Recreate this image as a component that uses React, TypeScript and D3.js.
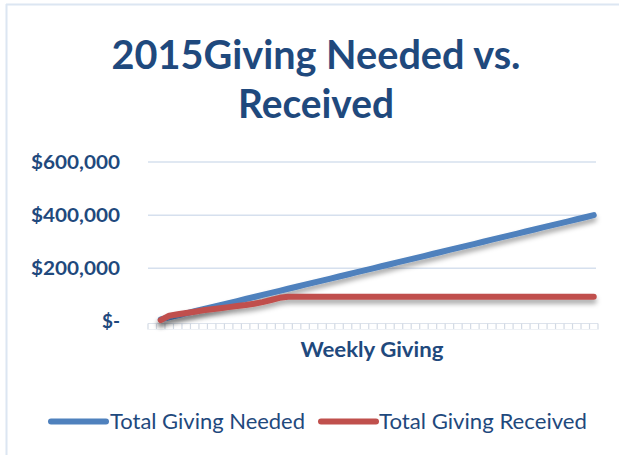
import React from "react";
import * as d3 from "d3";

const weeks: number[] = d3.range(0, 53);

const totalNeeded: (number | null)[] = [
  null,
  7692, 15385, 23077, 30769, 38462, 46154, 53846, 61538, 69231, 76923,
  84615, 92308, 100000, 107692, 115385, 123077, 130769, 138462, 146154, 153846,
  161538, 169231, 176923, 184615, 192308, 200000, 207692, 215385, 223077, 230769,
  238462, 246154, 253846, 261538, 269231, 276923, 284615, 292308, 300000, 307692,
  315385, 323077, 330769, 338462, 346154, 353846, 361538, 369231, 376923, 384615,
  392308, 400000,
];

const totalReceived: (number | null)[] = [
  null,
  5000, 22000, 27000, 32000, 37000, 42000, 46000, 50000, 54000, 58000,
  62000, 67000, 73000, 81000, 89000, 93000, 93000, 93000, 93000, 93000,
  93000, 93000, 93000, 93000, 93000, 93000, 93000, 93000, 93000, 93000,
  93000, 93000, 93000, 93000, 93000, 93000, 93000, 93000, 93000, 93000,
  93000, 93000, 93000, 93000, 93000, 93000, 93000, 93000, 93000, 93000,
  93000, 93000,
];

const yTicks: number[] = [0, 200000, 400000, 600000];
const yTickLabels: string[] = ["$-", "$200,000", "$400,000", "$600,000"];
const yLabelWidths: number[] = [18, 89, 89, 89];

const seriesNames: string[] = ["Total Giving Needed", "Total Giving Received"];
const seriesColors: string[] = ["#4F81BD", "#C0504D"];

const titleLines: string[] = ["2015Giving Needed vs.", "Received"];
const xAxisTitle = "Weekly Giving";

const FONT = "Lato, 'Open Sans', sans-serif";
const TEXT = "#1F497D";

export default function App() {
  const W = 619;
  const H = 455;
  const left = 148;
  const right = 598;
  const top = 162;
  const bottom = 321.5;

  const x = d3
    .scaleBand<number>()
    .domain(weeks)
    .range([left, right])
    .paddingInner(0)
    .paddingOuter(0);
  const y = d3.scaleLinear().domain([0, 600000]).range([bottom, top]);

  const cx = (w: number) => (x(w) as number) + x.bandwidth() / 2;

  const line = d3
    .line<[number, number | null]>()
    .defined((d) => d[1] !== null)
    .x((d) => cx(d[0]))
    .y((d) => y(d[1] as number));

  const series = [totalNeeded, totalReceived];

  const tickXs = weeks.map((w) => x(w) as number).concat([right]);

  return (
    <svg
      width={W}
      height={H}
      style={{ position: "absolute", left: 0, top: 0, background: "#fff" }}
    >
      <defs>
        <filter id="shadow" x="-10%" y="-30%" width="120%" height="200%">
          <feDropShadow dx="0" dy="4" stdDeviation="2.5" floodColor="#000" floodOpacity="0.35" />
        </filter>
      </defs>
      <rect x={0} y={0} width={W} height={H} fill="#fff" />
      <line x1={6.5} y1={4} x2={6.5} y2={H} stroke="#DCE6F2" strokeWidth={2} />
      <line x1={6} y1={4.5} x2={W} y2={4.5} stroke="#DCE6F2" strokeWidth={2} />

      {/* Title */}
      <text
        x={316}
        y={69}
        textAnchor="middle"
        fontFamily={FONT}
        fontWeight="bold"
        fontSize={40}
        fill={TEXT}
        textLength={409}
        lengthAdjust="spacingAndGlyphs"
      >
        {titleLines[0]}
      </text>
      <text
        x={316}
        y={118}
        textAnchor="middle"
        fontFamily={FONT}
        fontWeight="bold"
        fontSize={40}
        fill={TEXT}
        textLength={156}
        lengthAdjust="spacingAndGlyphs"
      >
        {titleLines[1]}
      </text>

      {/* Gridlines */}
      {yTicks.filter((t) => t > 0).map((t) => (
        <line
          key={t}
          x1={left}
          x2={right - 2}
          y1={y(t)}
          y2={y(t)}
          stroke="#D6E0EE"
          strokeWidth={1.5}
        />
      ))}

      {/* Y labels */}
      {yTicks.map((t, i) => (
        <text
          key={t}
          x={120}
          y={y(t)}
          dy="0.35em"
          textAnchor="end"
          fontFamily={FONT}
          fontWeight="bold"
          fontSize={19}
          fill={TEXT}
          textLength={yLabelWidths[i]}
          lengthAdjust="spacingAndGlyphs"
        >
          {yTickLabels[i]}
        </text>
      ))}

      {/* X axis */}
      <line x1={left} x2={right} y1={bottom + 2} y2={bottom + 2} stroke="#DDE3EC" strokeWidth={1} />
      {tickXs.map((tx, i) => (
        <line
          key={i}
          x1={tx}
          x2={tx}
          y1={bottom + 2}
          y2={bottom + 8}
          stroke="#D3DAE4"
          strokeWidth={1.2}
        />
      ))}
      <line x1={left} x2={right} y1={bottom + 8} y2={bottom + 8} stroke="#EEF1F5" strokeWidth={1} />

      {/* Lines */}
      {series.map((vals, si) => (
        <path
          key={si}
          d={line(weeks.map((w, i) => [w, vals[i]] as [number, number | null])) || ""}
          fill="none"
          stroke={seriesColors[si]}
          strokeWidth={6}
          strokeLinecap="round"
          strokeLinejoin="round"
          filter="url(#shadow)"
        />
      ))}

      {/* X axis title */}
      <text
        x={372}
        y={357}
        textAnchor="middle"
        fontFamily={FONT}
        fontWeight="bold"
        fontSize={20}
        fill={TEXT}
        textLength={143}
        lengthAdjust="spacingAndGlyphs"
      >
        {xAxisTitle}
      </text>

      {/* Legend */}
      {[
        { lx: 51, tx: 110, tw: 195 },
        { lx: 321, tx: 379, tw: 208 },
      ].map((p, i) => (
        <g key={i}>
          <line
            x1={p.lx}
            x2={p.lx + 55}
            y1={421.5}
            y2={421.5}
            stroke={seriesColors[i]}
            strokeWidth={6}
            strokeLinecap="round"
          />
          <text
            x={p.tx}
            y={429}
            fontFamily={FONT}
            fontSize={22}
            fill={TEXT}
            textLength={p.tw}
            lengthAdjust="spacingAndGlyphs"
          >
            {seriesNames[i]}
          </text>
        </g>
      ))}
    </svg>
  );
}
